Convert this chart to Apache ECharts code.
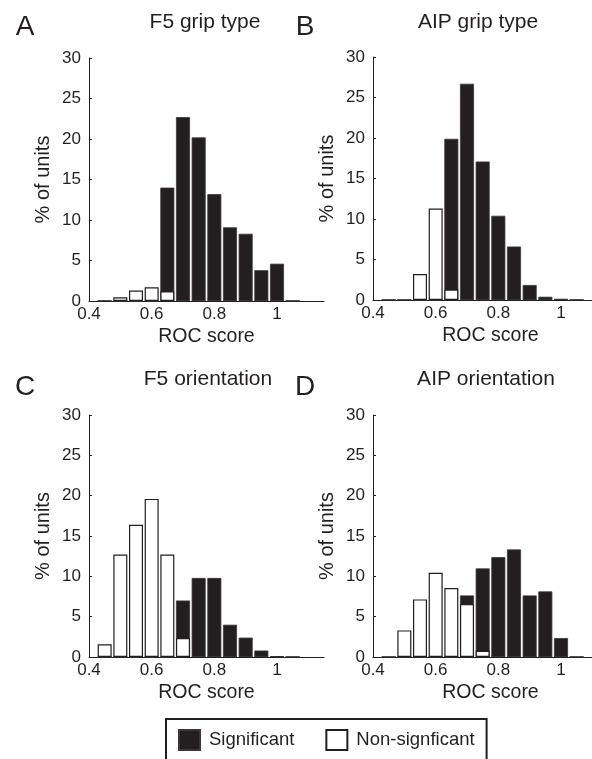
<!DOCTYPE html>
<html>
<head>
<meta charset="utf-8">
<script src="https://cdn.jsdelivr.net/npm/echarts@6/dist/echarts.min.js"></script>
<style>
html, body { margin: 0; padding: 0; background: #fff; width: 592px; height: 759px; overflow: hidden; }
#chart { width: 620px; height: 759px; }
</style>
</head>
<body>
<div id="chart"></div>
<script>
// bin centres (ROC score)
const bins = [0.45, 0.5, 0.55, 0.6, 0.65, 0.7, 0.75, 0.8, 0.85, 0.9, 0.95, 1.0, 1.05];

// % of units per bin
const f5GripSig = [0, 0, 0, 0, 14.0, 22.7, 20.2, 13.2, 9.1, 8.3, 3.8, 4.6, 0];
const f5GripNon = [0, 0.45, 1.3, 1.7, 1.2, 0, 0, 0, 0, 0, 0, 0, 0];
const aipGripSig = [0, 0, 0, 0, 19.9, 26.7, 17.1, 10.4, 6.6, 1.85, 0.4, 0.15, 0];
const aipGripNon = [0, 0, 3.2, 11.3, 1.3, 0, 0, 0, 0, 0, 0, 0, 0];
const f5OriSig = [0, 0, 0, 0, 0, 7.0, 9.8, 9.8, 4.0, 2.4, 0.8, 0.1, 0];
const f5OriNon = [1.57, 12.7, 16.4, 19.6, 12.7, 2.35, 0, 0, 0, 0, 0, 0, 0];
const aipOriSig = [0, 0, 0, 0, 0, 7.63, 10.98, 12.38, 13.33, 7.63, 8.13, 2.35, 0];
const aipOriNon = [0, 3.3, 7.14, 10.44, 8.54, 6.56, 0.78, 0, 0, 0, 0, 0, 0];

const panelTitles = ['F5 grip type', 'AIP grip type', 'F5 orientation', 'AIP orientation'];
const panelLetters = ['A', 'B', 'C', 'D'];
const xTicks = [0.4, 0.6, 0.8, 1];
const yTicks = [0, 5, 10, 15, 20, 25, 30];

const FONT = '"Liberation Sans", Arial, Helvetica, sans-serif';
const INK = '#231f20';

// the right-hand panels run past the 592px window edge, as in the figure
const panels = [
	{ sig: f5GripSig, non: f5GripNon, grid: { left: 89, top: 58, width: 235, height: 243 } },
	{ sig: aipGripSig, non: aipGripNon, grid: { left: 373, top: 57, width: 235, height: 243 } },
	{ sig: f5OriSig, non: f5OriNon, grid: { left: 89, top: 415, width: 235, height: 242 } },
	{ sig: aipOriSig, non: aipOriNon, grid: { left: 373, top: 415, width: 235, height: 242 } }
];

const pairs = arr => bins.map((b, i) => [b, arr[i]]);

const grids = [], xAxes = [], yAxes = [], series = [];
panels.forEach((p, i) => {
	grids.push(Object.assign({ containLabel: false }, p.grid));
	xAxes.push({
		type: 'value',
		gridIndex: i,
		min: xTicks[0],
		max: 1.15,
		interval: 0.2,
		name: 'ROC score',
		nameLocation: 'middle',
		nameGap: 26,
		nameTextStyle: { fontFamily: FONT, fontSize: 19.5, color: INK },
		axisLine: { show: true, lineStyle: { color: INK, width: 1 } },
		axisTick: { show: false },
		splitLine: { show: false },
		axisLabel: {
			fontFamily: FONT, fontSize: 17, color: INK, margin: 5,
			showMaxLabel: false,
			formatter: v => xTicks.some(t => Math.abs(t - v) < 1e-6) ? String(+v.toFixed(1)) : ''
		}
	});
	yAxes.push({
		type: 'value',
		gridIndex: i,
		min: yTicks[0],
		max: yTicks[yTicks.length - 1],
		interval: 5,
		name: '% of units',
		nameLocation: 'middle',
		nameGap: 36,
		nameTextStyle: { fontFamily: FONT, fontSize: 20, color: INK },
		axisLine: { show: true, lineStyle: { color: INK, width: 1 } },
		axisTick: { show: true, inside: true, length: 3, lineStyle: { color: INK } },
		splitLine: { show: false },
		axisLabel: { fontFamily: FONT, fontSize: 17, color: INK, margin: 8 }
	});
	series.push({
		name: 'Significant',
		type: 'bar',
		xAxisIndex: i,
		yAxisIndex: i,
		barWidth: 14,
		barGap: '-100%',
		itemStyle: { color: INK, borderColor: '#3a3637', borderWidth: 0.8 },
		emphasis: { disabled: true },
		data: pairs(p.sig)
	});
	series.push({
		name: 'Non-signficant',
		type: 'bar',
		xAxisIndex: i,
		yAxisIndex: i,
		barWidth: 14,
		barGap: '-100%',
		itemStyle: { color: '#fff', borderColor: INK, borderWidth: 1.2 },
		emphasis: { disabled: true },
		data: pairs(p.non)
	});
});

const titlePos = [[205, 22], [478, 22], [208, 379], [486, 379]];
const letterPos = [[25, 27], [305, 27], [25, 387], [305, 387]];
const graphics = [];
panelTitles.forEach((t, i) => {
	graphics.push({
		type: 'text', x: titlePos[i][0], y: titlePos[i][1],
		style: { text: t, fontFamily: FONT, fontSize: 21, fill: INK, align: 'center', verticalAlign: 'middle' }
	});
	graphics.push({
		type: 'text', x: letterPos[i][0], y: letterPos[i][1],
		style: { text: panelLetters[i], fontFamily: FONT, fontSize: 28, fill: INK, align: 'center', verticalAlign: 'middle' }
	});
});

const chart = echarts.init(document.getElementById('chart'), null, { renderer: 'canvas' });
chart.setOption({
	animation: false,
	backgroundColor: '#fff',
	grid: grids,
	xAxis: xAxes,
	yAxis: yAxes,
	series: series,
	legend: {
		data: [
			{ name: 'Significant', icon: 'rect' },
			{ name: 'Non-signficant', icon: 'rect' }
		],
		left: 166,
		top: 719,
		orient: 'horizontal',
		padding: [10, 12, 12, 12],
		itemWidth: 21,
		itemHeight: 20,
		itemGap: 31,
		borderColor: INK,
		borderWidth: 2,
		selectedMode: false,
		textStyle: { fontFamily: FONT, fontSize: 18.5, color: INK, padding: [0, 0, 0, 4] }
	},
	graphic: graphics
});
</script>
</body>
</html>
